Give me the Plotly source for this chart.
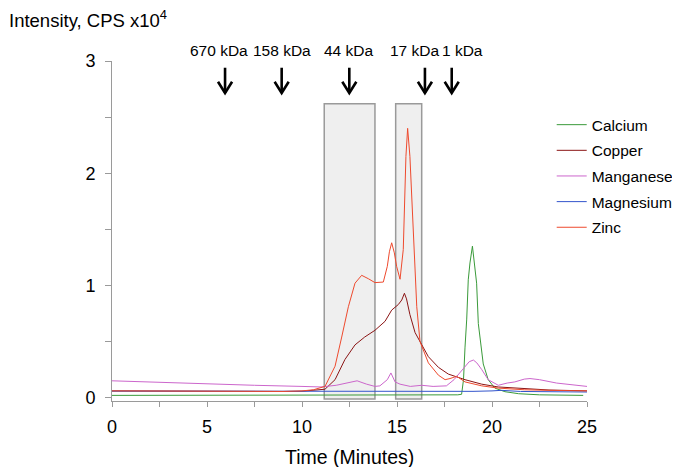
import plotly.graph_objects as go

# ---------------- data ----------------
calcium_t = [0, 5, 10, 15, 18.2, 18.4, 18.5, 18.58, 18.67, 18.75, 18.84, 18.97, 19.1, 19.19, 19.28, 19.37, 19.54, 19.8, 20.15, 20.68, 21.4, 22.5, 24.8]
calcium_y = [0.02, 0.02, 0.02, 0.022, 0.025, 0.03, 0.16, 0.45, 0.70, 1.05, 1.20, 1.35, 1.17, 1.02, 0.66, 0.55, 0.30, 0.16, 0.085, 0.053, 0.035, 0.025, 0.02]

copper_t = [0, 5, 9, 10, 10.5, 11.21, 11.74, 12.26, 12.79, 13.3, 13.84, 14.37, 14.72, 15.07, 15.25, 15.39, 15.5, 15.68, 15.95, 16.3, 16.65, 17.18, 17.7, 18.58, 19.46, 20.33, 21.7, 23, 25]
copper_y = [0.06, 0.055, 0.055, 0.057, 0.062, 0.075, 0.16, 0.34, 0.47, 0.54, 0.60, 0.68, 0.78, 0.83, 0.87, 0.93, 0.88, 0.74, 0.58, 0.47, 0.365, 0.27, 0.21, 0.16, 0.12, 0.095, 0.078, 0.068, 0.06]

manganese_t = [0, 2.5, 5, 7.5, 10, 11, 11.8, 12.53, 12.9, 13.4, 13.84, 14.1, 14.49, 14.68, 14.9, 15.16, 15.7, 16.3, 16.9, 17.6, 18.0, 18.3, 18.58, 18.8, 19.02, 19.2, 19.46, 19.8, 20.33, 20.8, 21.2, 21.7, 22.0, 22.5, 23.4, 24.2, 25]
manganese_y = [0.15, 0.135, 0.12, 0.11, 0.10, 0.095, 0.11, 0.135, 0.15, 0.12, 0.10, 0.105, 0.16, 0.22, 0.14, 0.12, 0.10, 0.11, 0.10, 0.105, 0.16, 0.22, 0.28, 0.32, 0.335, 0.31, 0.25, 0.16, 0.11, 0.13, 0.14, 0.165, 0.17, 0.16, 0.13, 0.115, 0.10]

magnesium_t = [0, 5, 10, 15, 19, 20, 20.5, 21.5, 25]
magnesium_y = [0.058, 0.056, 0.055, 0.055, 0.056, 0.06, 0.065, 0.055, 0.05]

zinc_t = [0, 5, 9, 10, 10.6, 11.21, 11.74, 12.09, 12.44, 12.79, 13.14, 13.49, 13.84, 14.28, 14.49, 14.6, 14.72, 14.86, 14.98, 15.16, 15.33, 15.47, 15.56, 15.68, 15.86, 16.04, 16.21, 16.65, 17.18, 17.53, 17.79, 18.14, 18.58, 19.46, 20.33, 21.7, 23, 25]
zinc_y = [0.06, 0.055, 0.055, 0.06, 0.07, 0.10, 0.28, 0.54, 0.81, 1.02, 1.09, 1.06, 1.025, 1.03, 1.17, 1.30, 1.38, 1.29, 1.17, 1.055, 1.32, 2.15, 2.40, 2.15, 1.41, 0.81, 0.50, 0.31, 0.20, 0.16, 0.17, 0.19, 0.14, 0.105, 0.085, 0.07, 0.065, 0.06]

series_names = ["Calcium", "Copper", "Manganese", "Magnesium", "Zinc"]
series_t = [calcium_t, copper_t, manganese_t, magnesium_t, zinc_t]
series_y = [calcium_y, copper_y, manganese_y, magnesium_y, zinc_y]
series_colors = ["#3a9a3a", "#8b1515", "#cc66cc", "#3355cc", "#ee4a2e"]

# fractions (shaded boxes)
box_start = [11.17, 14.93]
box_end = [13.84, 16.30]
box_top = [2.62, 2.62]

# molecular weight markers
marker_labels = ["670 kDa", "158 kDa", "44 kDa", "17 kDa", "1 kDa"]
marker_x = [5.95, 8.93, 12.49, 16.47, 17.88]
label_x = [5.63, 8.97, 12.47, 15.90, 18.47]

x_ticks = [0, 5, 10, 15, 20, 25]
y_ticks = [0, 1, 2, 3]
y_range = [-0.03, 3.0]

FONT = "Arial, Liberation Sans, Helvetica, sans-serif"

fig = go.Figure()

for i, (name, t, y, c) in enumerate(zip(series_names, series_t, series_y, series_colors)):
    fig.add_trace(go.Scatter(x=t, y=y, mode="lines", name=name,
                             line=dict(color=c, width=1),
                             legendgroup=name))

# arrows built from marker positions
ax, ay = [], []
stem_top, tip, head_h, head_w = 2.94, 2.715, 0.10, 0.37
for mx in marker_x:
    ax += [mx, mx, None, mx - head_w, mx, mx + head_w, None]
    ay += [stem_top, tip, None, tip + head_h, tip, tip + head_h, None]
fig.add_trace(go.Scatter(x=ax, y=ay, mode="lines", showlegend=False,
                         line=dict(color="black", width=2.6), hoverinfo="skip"))

for x0, x1, top in zip(box_start, box_end, box_top):
    fig.add_shape(type="rect", xref="x", yref="y", x0=x0, x1=x1, y0=-0.012, y1=top,
                  fillcolor="#efefef", line=dict(color="#9a9a9a", width=1.5), layer="below")

for lx, lab in zip(label_x, marker_labels):
    fig.add_annotation(x=lx, y=1, xref="x", yref="paper", yshift=11, text=lab, showarrow=False,
                       font=dict(size=15.5, color="black", family=FONT), yanchor="middle")

fig.add_annotation(x=0, y=1, xref="paper", yref="paper", xshift=-105, yshift=28,
                   text="Intensity, CPS x10<sup>4</sup>", showarrow=False,
                   xanchor="left", yanchor="bottom",
                   font=dict(size=18.5, color="black", family=FONT))
fig.add_annotation(x=0.5, y=0, xref="paper", yref="paper", yshift=-56,
                   text="Time (Minutes)", showarrow=False,
                   xanchor="center", yanchor="middle",
                   font=dict(size=19.5, color="black", family=FONT))

fig.update_layout(
    width=680, height=459,
    margin=dict(l=104, r=101, t=53, b=66, autoexpand=False),
    paper_bgcolor="white", plot_bgcolor="white",
    font=dict(family=FONT, size=18, color="black"),
    showlegend=True,
    legend=dict(x=0.9257, y=0.8615, xanchor="left", yanchor="top",
                font=dict(size=15.5, color="black", family=FONT),
                bgcolor="rgba(0,0,0,0)", tracegroupgap=2.5, itemwidth=30),
    xaxis=dict(range=[0, 25], tickvals=x_ticks, showgrid=False, zeroline=False,
               showline=True, linecolor="#9a9a9a", linewidth=1, automargin=False,
               ticks="outside", ticklen=5, tickcolor="#9a9a9a",
               minor=dict(dtick=2.5, tick0=0, ticks="outside", ticklen=5, tickcolor="#9a9a9a"),
               tickfont=dict(size=18), ticklabelstandoff=4),
    yaxis=dict(range=y_range, tickvals=y_ticks, showgrid=False, zeroline=False,
               showline=True, linecolor="#9a9a9a", linewidth=1, automargin=False,
               ticks="outside", ticklen=6, tickcolor="#9a9a9a",
               minor=dict(dtick=0.5, tick0=0, ticks="outside", ticklen=6, tickcolor="#9a9a9a"),
               tickfont=dict(size=18), ticklabelstandoff=6),
)

fig.write_html("out.html")
